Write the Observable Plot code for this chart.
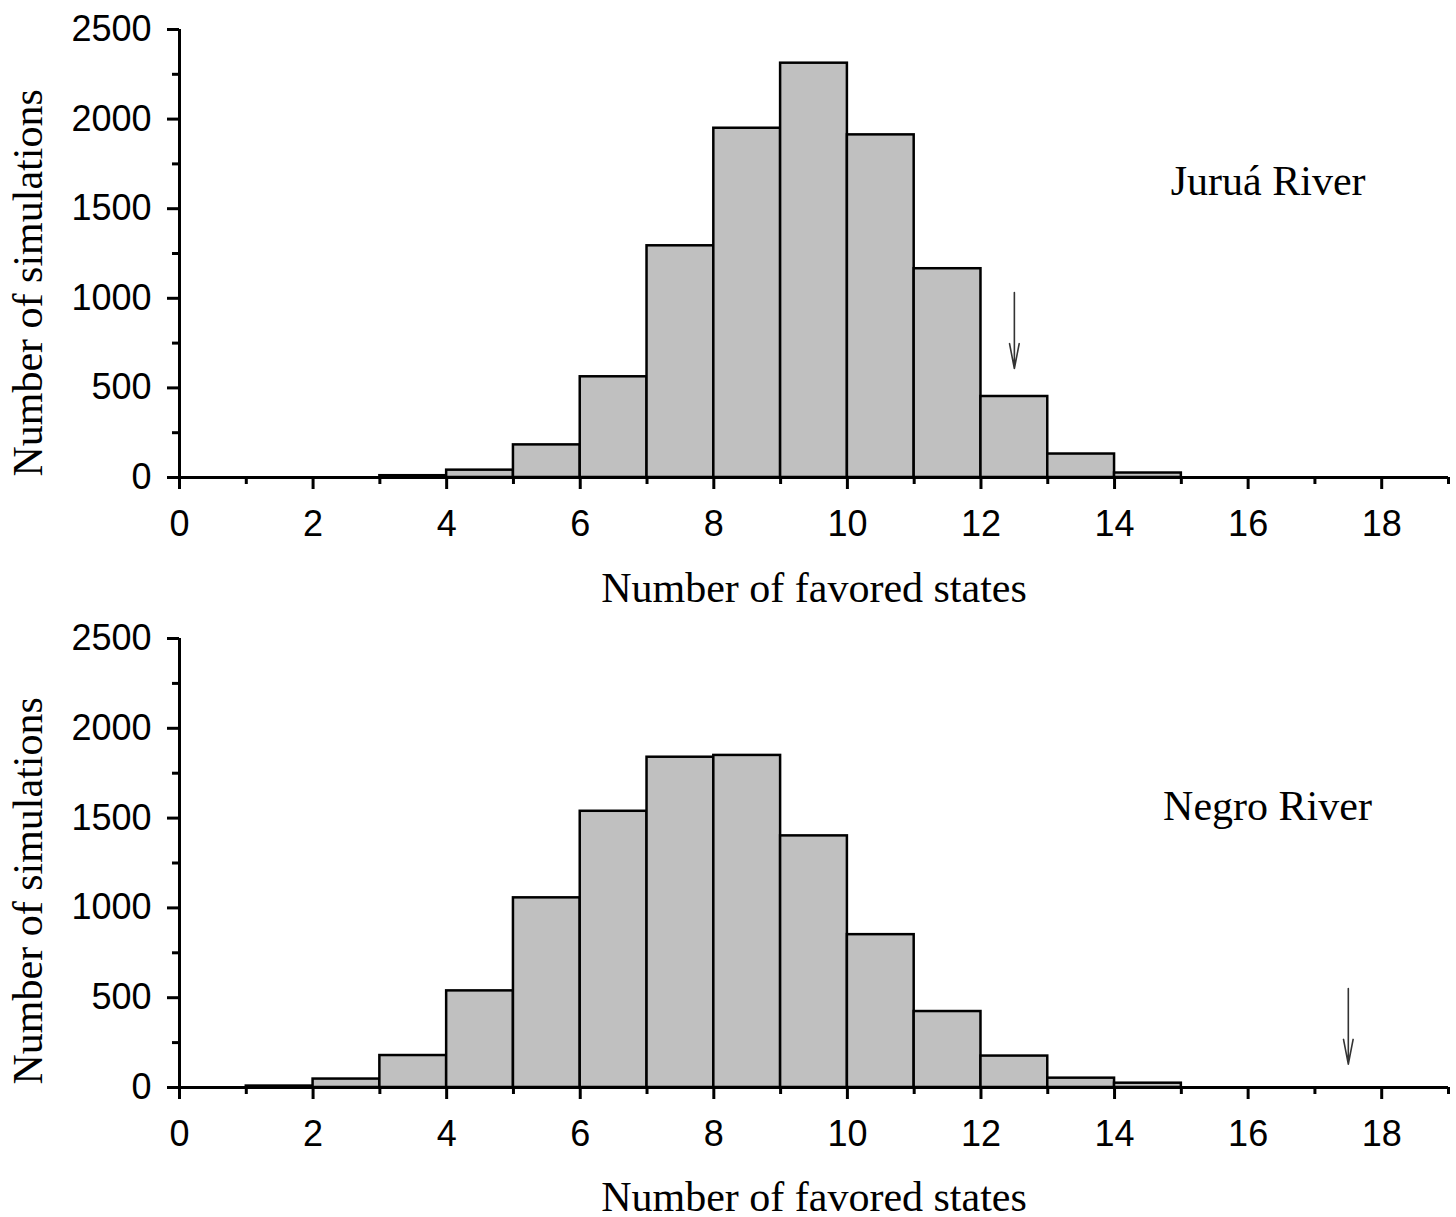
<!DOCTYPE html>
<html>
<head>
<meta charset="utf-8">
<script src="https://cdn.jsdelivr.net/npm/d3@7"></script>
<script src="https://cdn.jsdelivr.net/npm/@observablehq/plot@0.6"></script>
<style>
  html, body { margin: 0; padding: 0; background: #fff; }
  #chart { width: 1456px; }
  #chart svg { display: block; }
</style>
</head>
<body>
<div id="chart"></div>
<script>
// Bin lower edges (bin width = 1 favored state)
const juruaBins = [3, 4, 5, 6, 7, 8, 9, 10, 11, 12, 13, 14];
const juruaCounts = [10, 41, 182, 562, 1293, 1949, 2312, 1912, 1165, 452, 131, 25];
const negroBins = [1, 2, 3, 4, 5, 6, 7, 8, 9, 10, 11, 12, 13, 14];
const negroCounts = [8, 47, 178, 538, 1056, 1538, 1839, 1849, 1401, 851, 423, 175, 52, 24];

const panelTitles = ["Juruá River", "Negro River"];
const observedValues = [12.5, 17.5];           // arrow positions (observed number)
const arrowTopValues = [1032, 551];
const arrowBottomValues = [608, 130];

const xMajorTicks = [0, 2, 4, 6, 8, 10, 12, 14, 16, 18];
const xMinorTicks = [1, 3, 5, 7, 9, 11, 13, 15, 17, 19];
const yMajorTicks = [0, 500, 1000, 1500, 2000, 2500];
const yMinorTicks = [250, 750, 1250, 1750, 2250];

const xLabel = "Number of favored states";
const yLabel = "Number of simulations";

const sans = "'Liberation Sans', Arial, Helvetica, sans-serif";
const serif = "'Liberation Serif', 'Times New Roman', Times, serif";

function panel(bins, counts, i, opts) {
  const data = bins.map((b, k) => ({x1: b, x2: b + 1, count: counts[k]}));
  const arrow = [{x: observedValues[i], y1: arrowTopValues[i], y2: arrowBottomValues[i]}];
  return Plot.plot({
    width: 1456,
    height: opts.height,
    marginTop: opts.marginTop,
    marginBottom: opts.marginBottom,
    marginLeft: 179,
    marginRight: 8,
    style: {fontFamily: sans, fontSize: "36px", color: "#000", background: "#fff", overflow: "visible"},
    x: {domain: [0, 19]},
    y: {domain: [0, 2500]},
    marks: [
      Plot.rect(data, {x1: "x1", x2: "x2", y1: 0, y2: "count", fill: "#c0c0c0", stroke: "#000", strokeWidth: 2.5}),
      Plot.ruleY([0], {stroke: "#000", strokeWidth: 3}),
      Plot.ruleX([0], {stroke: "#000", strokeWidth: 3}),
      Plot.axisX({ticks: xMajorTicks, tickSize: 12, tickPadding: 21, strokeWidth: 3, fontSize: 36, fontFamily: sans, label: null, tickFormat: d3.format("d")}),
      Plot.axisX({ticks: xMinorTicks, tickSize: 7, strokeWidth: 3, text: null, label: null}),
      Plot.axisY({ticks: yMajorTicks, tickSize: 12, tickPadding: 16, strokeWidth: 3, fontSize: 36, fontFamily: sans, label: null, tickFormat: d3.format("d")}),
      Plot.axisY({ticks: yMinorTicks, tickSize: 7, strokeWidth: 3, text: null, label: null}),
      Plot.arrow(arrow, {x1: "x", x2: "x", y1: "y1", y2: "y2", stroke: "#333", strokeWidth: 1.6, headAngle: 22, headLength: 24}),
      Plot.text([panelTitles[i]], {x: opts.titleX, y: opts.titleY, text: d => d, fontFamily: serif, fontSize: 42, fill: "#000", textAnchor: "middle", lineAnchor: "middle"}),
      Plot.text([xLabel], {frameAnchor: "bottom", dy: opts.xLabelDy, text: d => d, fontFamily: serif, fontSize: 42, fill: "#000", lineAnchor: "middle"}),
      Plot.text([yLabel], {x: opts.yLabelX, y: opts.yLabelY, rotate: -90, text: d => d, fontFamily: serif, fontSize: 42, fill: "#000", textAnchor: "middle", lineAnchor: "middle"})
    ]
  });
}

const chart = document.getElementById("chart");
chart.appendChild(panel(juruaBins, juruaCounts, 0, {height: 610, marginTop: 29, marginBottom: 133, titleX: 16.3, titleY: 1650, xLabelDy: 111, yLabelX: -2.26, yLabelY: 1086}));
chart.appendChild(panel(negroBins, negroCounts, 1, {height: 607, marginTop: 28, marginBottom: 130, titleX: 16.29, titleY: 1563, xLabelDy: 110, yLabelX: -2.26, yLabelY: 1095}));
</script>
</body>
</html>
